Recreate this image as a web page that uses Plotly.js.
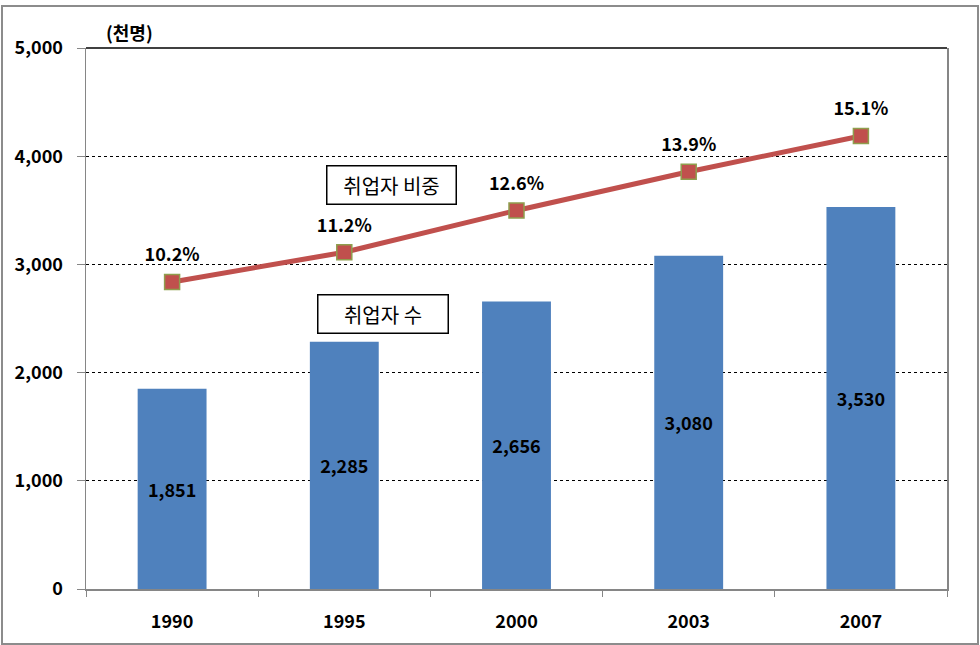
<!DOCTYPE html>
<html>
<head>
<meta charset="utf-8">
<script src="https://cdn.plot.ly/plotly-3.0.1.min.js"></script>
<style>
    body { margin: 0; padding: 0; background: #fff; }
    #chart { width: 980px; height: 645px; position: relative; }
    #frame {
        position: absolute; left: 1px; top: 5px; width: 974px; height: 636px;
        border: 2px solid #8c8c8c; pointer-events: none;
    }
</style>
</head>
<body>
<div id="chart"></div>
<div id="frame"></div>
<script>
// 연도별 취업자 수(천명)와 비중(%)
const years = ['1990', '1995', '2000', '2003', '2007'];
const workers = [1851, 2285, 2656, 3080, 3530];
const shares = [10.2, 11.2, 12.6, 13.9, 15.1];
const yTicks = [0, 1000, 2000, 3000, 4000, 5000];

const FONT = '"Noto Sans CJK KR", "Noto Sans", sans-serif';

function drawChart() {
    const bars = {
        x: years,
        y: workers,
        type: 'bar',
        name: '취업자 수',
        width: 0.4,
        marker: {
            color: '#4f81bd'
        },
        texttemplate: '%{y:,}',
        textposition: 'inside',
        insidetextanchor: 'middle',
        constraintext: 'none',
        textangle: 0,
        insidetextfont: {
            size: 18,
            color: '#000',
            family: FONT,
            weight: 'bold'
        },
        hoverinfo: 'skip'
    };

    const line = {
        x: years,
        y: shares,
        type: 'scatter',
        mode: 'lines+markers',
        name: '취업자 비중',
        yaxis: 'y2',
        line: {
            color: '#c0504d',
            width: 5
        },
        marker: {
            symbol: 'square',
            size: 15,
            color: '#c0504d',
            line: {
                color: '#8f9e4e',
                width: 1.5
            }
        },
        hoverinfo: 'skip'
    };

    // 비중 라벨: 투명한 큰 마커로 라벨을 위로 띄움
    const shareLabels = {
        x: years,
        y: shares,
        type: 'scatter',
        mode: 'markers+text',
        yaxis: 'y2',
        marker: { size: 24, opacity: 0 },
        text: shares.map(v => v.toFixed(1) + '%'),
        textposition: 'top center',
        textfont: {
            size: 18,
            color: '#000',
            family: FONT,
            weight: 'bold'
        },
        cliponaxis: false,
        hoverinfo: 'skip'
    };

    const layout = {
        width: 980,
        height: 645,
        showlegend: false,
        margin: { l: 86, r: 33, t: 48, b: 56 },
        paper_bgcolor: 'rgba(0,0,0,0)',
        plot_bgcolor: '#fff',
        font: { family: FONT, color: '#000' },
        xaxis: {
            type: 'category',
            tickson: 'boundaries',
            ticks: 'outside',
            ticklen: 6,
            tickcolor: '#868686',
            showline: true,
            linecolor: '#868686',
            linewidth: 1.5,
            showgrid: false,
            tickfont: { size: 18, family: FONT, weight: 'bold', color: '#000' },
            ticklabelstandoff: 16
        },
        yaxis: {
            range: [0, 5000],
            tickvals: yTicks,
            tickformat: ',d',
            ticks: 'outside',
            ticklen: 8,
            tickcolor: '#868686',
            showline: true,
            linecolor: '#868686',
            linewidth: 1.5,
            mirror: true,
            showgrid: true,
            gridcolor: '#000',
            griddash: 'dot',
            gridwidth: 1,
            zeroline: false,
            tickfont: { size: 18, family: FONT, weight: 'bold', color: '#000' },
            ticklabelstandoff: 10
        },
        yaxis2: {
            overlaying: 'y',
            range: [-0.1, 18.05],
            visible: false
        },
        shapes: [{
            type: 'line',
            xref: 'paper', yref: 'paper',
            x0: 0, x1: 1, y0: 1, y1: 1,
            line: { color: '#000', width: 1.5 }
        }],
        annotations: [
            {
                text: '(천명)',
                xref: 'paper', yref: 'paper',
                x: 0.051, y: 1.03,
                xanchor: 'center',
                yanchor: 'middle',
                showarrow: false,
                font: { size: 18, family: FONT, weight: 'bold', color: '#000' }
            },
            {
                text: '취업자 비중',
                xref: 'paper', yref: 'paper',
                x: 0.3554, y: 0.7468,
                xanchor: 'center',
                yanchor: 'middle',
                showarrow: false,
                width: 124,
                height: 33,
                bgcolor: '#fff',
                bordercolor: '#000',
                borderwidth: 1.5,
                borderpad: 2,
                font: { size: 20, family: FONT, color: '#000' }
            },
            {
                text: '취업자 수',
                xref: 'paper', yref: 'paper',
                x: 0.3455, y: 0.5074,
                xanchor: 'center',
                yanchor: 'middle',
                showarrow: false,
                width: 125,
                height: 33,
                bgcolor: '#fff',
                bordercolor: '#000',
                borderwidth: 1.5,
                borderpad: 2,
                font: { size: 20, family: FONT, color: '#000' }
            }
        ]
    };

    const config = {
        displayModeBar: false,
        staticPlot: true
    };

    Plotly.newPlot('chart', [bars, line, shareLabels], layout, config);
}

drawChart();
</script>
</body>
</html>
